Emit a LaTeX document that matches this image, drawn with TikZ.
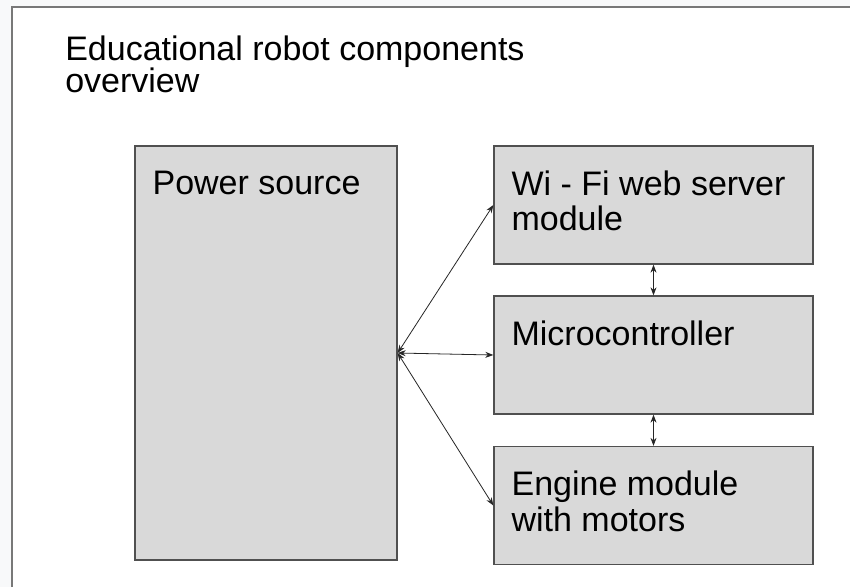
\documentclass[tikz,border=0pt]{standalone}
\usepackage{fontspec}
\setmainfont{Liberation Sans}
\usetikzlibrary{arrows.meta,positioning}
\definecolor{boxgray}{RGB}{217,217,217}
\definecolor{edgegray}{RGB}{80,80,80}
\definecolor{pagegray}{RGB}{248,249,250}
\definecolor{framegray}{RGB}{120,120,120}

\begin{document}
\begin{tikzpicture}[x=0.75pt,y=-0.75pt,font=\fontsize{25.5}{26.5}\selectfont,
  blk/.style={draw=edgegray,fill=boxgray,line width=1pt,inner sep=0pt},
  rblk/.style={blk,minimum width=239.25pt,minimum height=88.5pt},
  txt/.style={anchor=north west,align=left,inner sep=0pt},
  lnk/.style={{Stealth[length=6pt,width=4.5pt]}-{Stealth[length=6pt,width=4.5pt]},line width=0.6pt,draw=black!85}]
\useasboundingbox (0,0) rectangle (850,587);
% ---- page and frame
\fill[pagegray] (0,0) rectangle (850,587);
\fill[white] (12,7) rectangle (850,587);
\draw[framegray,line width=1.5pt] (12,587) -- (12,7) -- (850,7);
% ---- title
\node[txt,font=\fontsize{25.5}{24}\selectfont] (title) at (65,36) {Educational robot components\\overview};
% ---- blocks
\node[blk,minimum width=196.5pt,minimum height=310.5pt] (power) at (266,353) {};
\node[rblk] (wifi) at (653.5,205) {};
\node[rblk] (micro) at (653.5,355) {};
\node[rblk] (engine) at (653.5,505.5) {};
% ---- block texts
\node[txt] (powert) at ([shift={(18,25)}]power.north west) {Power source};
\node[txt] (wifit) at ([shift={(18,25)}]wifi.north west) {Wi - Fi web server\\module};
\node[txt] (microt) at ([shift={(18,25)}]micro.north west) {Microcontroller};
\node[txt] (enginet) at ([shift={(18,25)}]engine.north west) {Engine module\\with motors};
% ---- links
\draw[lnk] (power.east) -- (wifi.west);
\draw[lnk] (power.east) -- (micro.west);
\draw[lnk] (power.east) -- (engine.west);
\draw[lnk] (wifi) -- (micro);
\draw[lnk] (micro) -- (engine);
\end{tikzpicture}
\end{document}
